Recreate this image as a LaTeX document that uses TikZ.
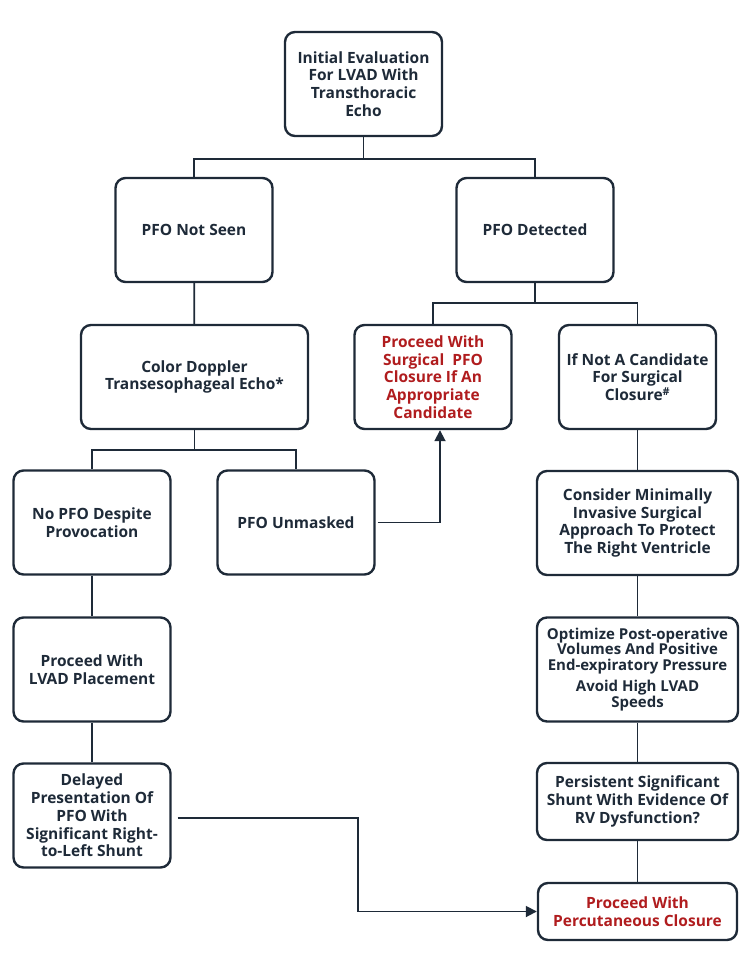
\documentclass[tikz,border=0pt]{standalone}
\usepackage{fontspec}
\setmainfont{Open Sans}
\usepackage{xcolor}
\usetikzlibrary{arrows.meta,positioning,calc}
\definecolor{boxnavy}{RGB}{30,42,56}
\definecolor{actred}{RGB}{176,28,30}

\begin{document}
\begin{tikzpicture}[
  x=1pt, y=-1pt,
  font=\bfseries\fontsize{15.5}{17.7}\selectfont,
  >={Triangle[width=11pt,length=11pt]},
  block/.style={rectangle, rounded corners=10pt, draw=boxnavy, line width=2.4pt,
    text=boxnavy, align=center, inner sep=2pt, minimum width=157pt, minimum height=104pt},
  wideblock/.style={block, minimum width=201pt},
  action/.style={block, text=actred},
  link/.style={draw=boxnavy, line width=1.8pt},
  arrow/.style={->, draw=boxnavy, line width=1.8pt}
]
  \useasboundingbox (0,0) rectangle (750,966);

  % Avaliacao inicial.
  \node[block] (init) at (363.5,84) {Initial Evaluation\\For LVAD With\\Transthoracic\\Echo};
  \node[block] (notseen) at (194,230) {PFO Not Seen};
  \node[block] (detected) at (535,230) {PFO Detected};

  % Segundo nivel.
  \node[block, minimum width=227pt] (tee) at (194.5,377) {Color Doppler\\Transesophageal Echo*};
  \node[action] (surgical) at (433,377) {Proceed With\\Surgical\ \ PFO\\Closure If An\\Appropriate\\Candidate};
  \node[block] (notcand) at (637.5,377) {If Not A Candidate\\For Surgical\\Closure\textsuperscript{\#}};

  % Coluna esquerda.
  \node[block] (nopfo) at (92,522.5) {No PFO Despite\\Provocation};
  \node[block] (unmasked) at (296,522.5) {PFO Unmasked};
  \node[block] (placement) at (92,669.5) {Proceed With\\LVAD Placement};
  \node[block] (delayed) at (92,815.5) {Delayed\\Presentation Of\\PFO With\\Significant Right-\\to-Left Shunt};

  % Coluna direita.
  \node[wideblock] (minimally) at (637.5,523) {Consider Minimally\\Invasive Surgical\\Approach To Protect\\The Right Ventricle};
  \node[wideblock, font=\bfseries\fontsize{15}{15.5}\selectfont] (optimize) at (637.5,669.5)
    {Optimize Post-operative\\Volumes And Positive\\End-expiratory Pressure\\[6pt]Avoid High LVAD\\Speeds};
  \node[wideblock, minimum height=77pt] (persistent) at (637.5,801.5)
    {Persistent Significant\\Shunt With Evidence Of\\RV Dysfunction?};
  \node[action, minimum width=199pt, minimum height=57pt] (percut) at (637.5,911.5)
    {Proceed With\\Percutaneous Closure};

  % Pontos de ramificacao.
  \coordinate (forkinit) at (363.5,159);
  \coordinate (forkdet) at (535,303);
  \coordinate (forktee) at (194.5,450);
  \coordinate (upbend) at (440,0);
  \coordinate (downbend) at (358,818);

  % Conexoes.
  \draw[link] (init.south) -- (forkinit);
  \draw[link] (forkinit) -| (notseen.north);
  \draw[link] (forkinit) -| (detected.north);
  \draw[link] (notseen) -- (tee);
  \draw[link] (detected.south) -- (forkdet);
  \draw[link] (forkdet) -| (surgical.north);
  \draw[link] (forkdet) -| (notcand.north);
  \draw[link] (tee.south) -- (forktee);
  \draw[link] (forktee) -| (nopfo.north);
  \draw[link] (forktee) -| (unmasked.north);
  \draw[arrow] ([xshift=2pt]unmasked.east) -| (upbend |- surgical.south);

  \draw[link] (nopfo) -- (placement);
  \draw[link] (placement) -- (delayed);
  \draw[arrow] ([xshift=6pt]delayed.east |- downbend) -- (downbend)
    |- (percut.west);

  \draw[link] (notcand) -- (minimally);
  \draw[link] (minimally) -- (optimize);
  \draw[link] (optimize) -- (persistent);
  \draw[link] (persistent) -- (percut);
\end{tikzpicture}
\end{document}
